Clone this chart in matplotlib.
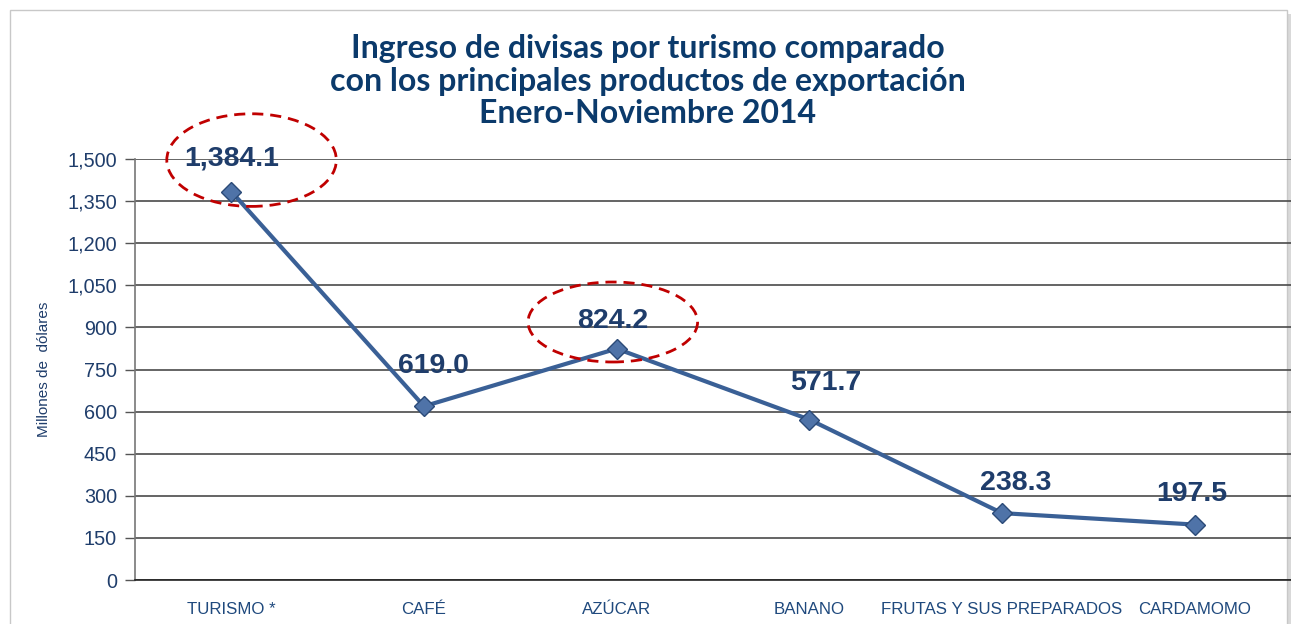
import matplotlib
matplotlib.use("Agg")
import matplotlib.pyplot as plt
from matplotlib.patches import Ellipse, Rectangle

# Ingreso de divisas (millones de US$), enero-noviembre 2014
categorias = ["TURISMO *", "CAFÉ", "AZÚCAR", "BANANO", "FRUTAS Y SUS PREPARADOS", "CARDAMOMO"]
valores = [1384.1, 619.0, 824.2, 571.7, 238.3, 197.5]
etiquetas = ["1,384.1", "619.0", "824.2", "571.7", "238.3", "197.5"]
yticks = list(range(0, 1501, 150))

# offsets of the value labels (points)
offsets = [(0, 24), (7, 29), (-3, 20), (12, 26), (10, 22), (-2, 22)]

navy = "#1F3D6B"
linea = "#3A6096"

plt.rcParams["font.family"] = ["Liberation Sans", "DejaVu Sans"]

fig = plt.figure(figsize=(12.91, 6.24), dpi=100)

# outer frame with a soft shadow
fig.patches.append(Rectangle((13 / 1291, -0.05), 1278 / 1291, 1.05 - 14 / 624,
                             transform=fig.transFigure, facecolor="#d9d9d9",
                             edgecolor="none", zorder=-3))
fig.patches.append(Rectangle((10 / 1291, -0.05), 1277 / 1291, 1.05 - 10 / 624,
                             transform=fig.transFigure, facecolor="white",
                             edgecolor="#c8c8c8", linewidth=1, zorder=-2))

ax = fig.add_axes([135 / 1291, 44 / 624, 1156 / 1291, 421 / 624])
ax.set_facecolor("none")

x = range(len(categorias))
ax.plot(x, valores, color=linea, linewidth=3, marker="D", markersize=10,
        markerfacecolor="#4F73A8", markeredgecolor="#2B4A78", markeredgewidth=1,
        zorder=3, clip_on=False)

for i, (v, t) in enumerate(zip(valores, etiquetas)):
    ax.annotate(t, (i, v), xytext=offsets[i], textcoords="offset points",
                ha="center", va="center", fontsize=20.5, fontweight="bold",
                color=navy, zorder=4, annotation_clip=False)

# dashed highlight ellipses
for i, w, h, dy in [(0, 0.88, 330, 112), (2, 0.88, 285, 95)]:
    e = Ellipse((i + 0.105 if i == 0 else i - 0.02, valores[i] + dy), w, h,
                fill=False, edgecolor="#C00000", linewidth=2,
                linestyle=(0, (4, 2.5)), zorder=5, clip_on=False)
    ax.add_patch(e)

ax.set_xlim(-0.5, len(categorias) - 0.5)
ax.set_ylim(0, 1500)
ax.set_yticks(yticks)
ax.set_yticklabels([f"{t:,}" for t in yticks], fontsize=14.3, color=navy)
ax.set_xticks(list(x))
ax.set_xticklabels(categorias, fontsize=12.2, color="#1F497D")
ax.tick_params(axis="x", length=0, pad=16)
ax.tick_params(axis="y", length=7, width=1, color="#555555", pad=6)
ax.grid(axis="y", color="#4a4a4a", linewidth=1.2)
ax.set_axisbelow(True)
for s in ["top", "right"]:
    ax.spines[s].set_visible(False)
ax.spines["left"].set_color("#777777")
ax.spines["left"].set_linewidth(1.2)
ax.spines["bottom"].set_color("#222222")
ax.spines["bottom"].set_linewidth(1.2)

ax.set_ylabel("Millones de  dólares", fontsize=11, color=navy, labelpad=12)

fig.text(648 / 1291, 1 - 81 / 624,
         "Ingreso de divisas por turismo comparado\ncon los principales productos de exportación\nEnero-Noviembre 2014",
         ha="center", va="center", fontsize=23, fontweight="bold", color="#0B3A6B",
         family=["Lato", "DejaVu Sans"], linespacing=1.15)

fig.savefig("out.png", dpi=100)
